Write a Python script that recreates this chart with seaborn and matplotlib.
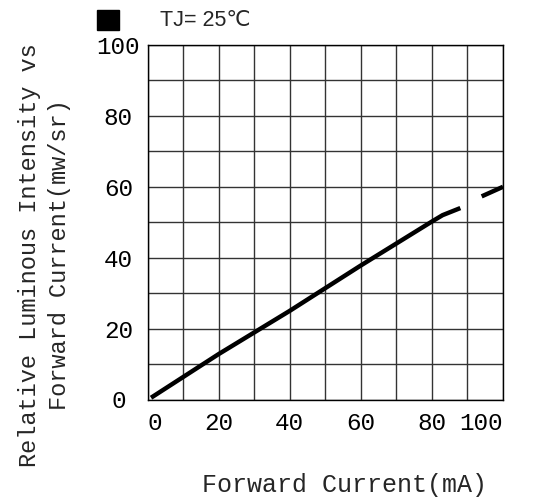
import matplotlib
matplotlib.use("Agg")
import matplotlib.pyplot as plt
import seaborn as sns
import pandas as pd

# Forward current (mA) vs relative luminous intensity (mw/sr)
current_main = [1, 20, 40, 60, 80, 83, 88]
intensity_main = [0.5, 12.8, 25.0, 37.8, 50.2, 52.0, 54.0]
current_tail = [94, 100]
intensity_tail = [57.3, 60.0]

x_ticks = [0, 20, 40, 60, 80, 100]
y_ticks = [0, 20, 40, 60, 80, 100]

sns.set_style("white")
plt.rcParams["font.family"] = ["Liberation Mono", "DejaVu Sans Mono"]

fig = plt.figure(figsize=(5.36, 5.03), dpi=100)
ax = fig.add_axes([147.5 / 536, 1 - 399.5 / 503, 355.5 / 536, 354.5 / 503])

main_df = pd.DataFrame({"current": current_main, "intensity": intensity_main})
tail_df = pd.DataFrame({"current": current_tail, "intensity": intensity_tail})
sns.lineplot(data=main_df, x="current", y="intensity", ax=ax, color="black",
             linewidth=3.2, solid_capstyle="butt")
sns.lineplot(data=tail_df, x="current", y="intensity", ax=ax, color="black",
             linewidth=3.2, solid_capstyle="butt")

ax.set_xlim(0, 100)
ax.set_ylim(0, 100)
ax.set_xticks(range(0, 101, 10))
ax.set_yticks(range(0, 101, 10))
ax.grid(True, color="#333333", linewidth=1.0)
ax.set_xticklabels([str(v) if v in x_ticks else "" for v in range(0, 101, 10)])
ax.set_yticklabels([str(v) if v in y_ticks else "" for v in range(0, 101, 10)])
ax.tick_params(length=0, labelsize=17.5, colors="black")
ax.tick_params(axis="x", pad=9)
ax.tick_params(axis="y", pad=21)
labels = [t for t in ax.get_xticklabels() if t.get_text()]
labels[0].set_ha("left")
labels[-1].set_ha("right")
for t in ax.get_yticklabels():
    t.set_ha("center")
for s in ax.spines.values():
    s.set_color("black")
    s.set_linewidth(1.0)
ax.set_xlabel("")
ax.set_ylabel("")

fig.text(345 / 536, 1 - 485 / 503, "Forward Current(mA)", ha="center", va="center", fontsize=18)
fig.text(30 / 536, 1 - 255 / 503, "Relative Luminous Intensity vs", rotation=90,
         ha="center", va="center", fontsize=17)
fig.text(60 / 536, 1 - 255 / 503, "Forward Current(mw/sr)", rotation=90,
         ha="center", va="center", fontsize=17)

# legend marker and temperature note
fig.patches.append(plt.Rectangle((97 / 536, 1 - 30 / 503), 22 / 536, 20 / 503,
                                 transform=fig.transFigure, color="black"))
fig.text(160 / 536, 1 - 20 / 503, "TJ= 25℃", ha="left", va="center", fontsize=15.5,
         family=["Liberation Sans", "DejaVu Sans"])

fig.savefig("out.png", dpi=100)
